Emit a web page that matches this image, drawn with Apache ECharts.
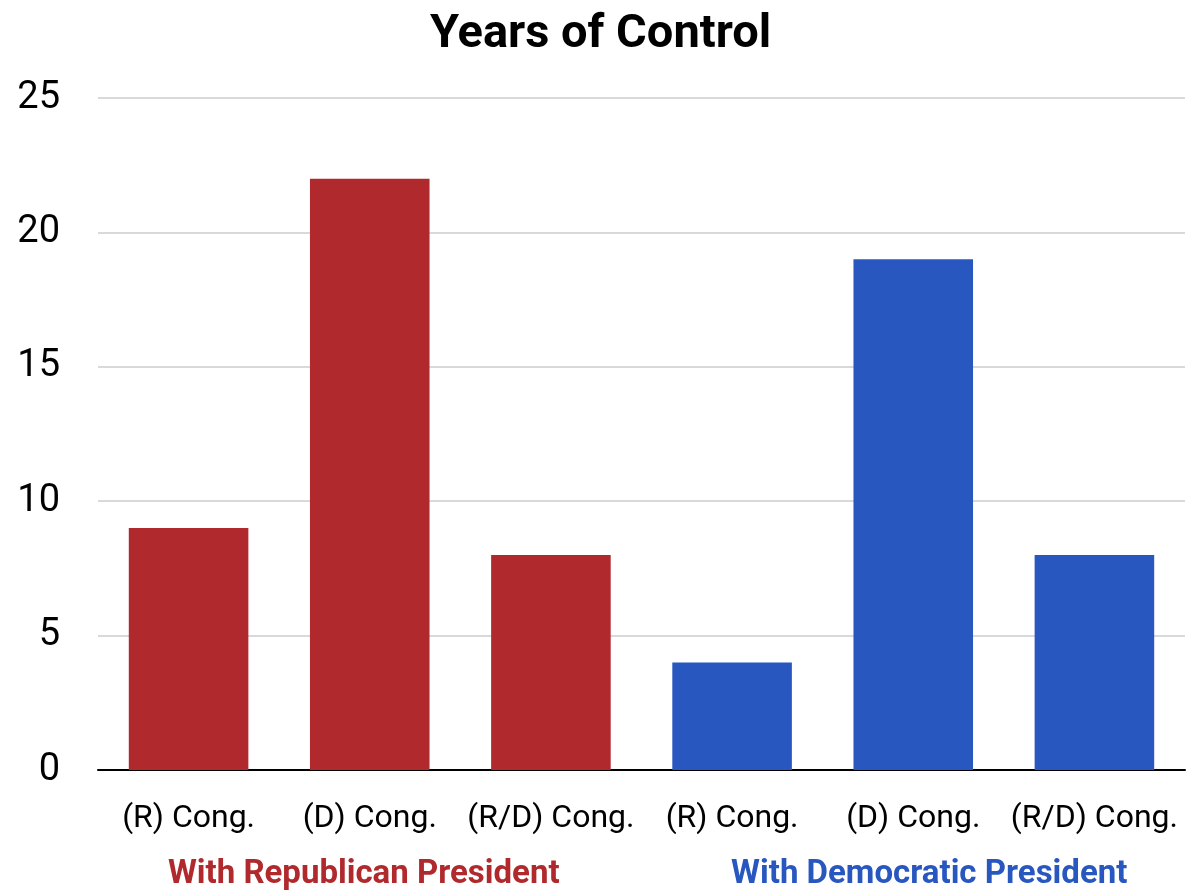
<!DOCTYPE html>
<html><head><meta charset="utf-8">
<script src="https://cdn.jsdelivr.net/npm/echarts@6/dist/echarts.min.js"></script>
<style>html,body{margin:0;padding:0;background:#fff}#c{width:1201px;height:892px}</style>
</head><body><div id="c"></div>
<script>
const titleText = "Years of Control";
const categories = ["(R) Cong.", "(D) Cong.", "(R/D) Cong.", "(R) Cong.", "(D) Cong.", "(R/D) Cong."];
const values = [9, 22, 8, 4, 19, 8];
const groups = ["With Republican President", "With Democratic President"];
const groupOfBar = [0, 0, 0, 1, 1, 1];
const groupColors = ["#B0292D", "#2857C0"];
const yTicks = { min: 0, max: 25, interval: 5 };

const FONT = 'Roboto,"DejaVu Sans Condensed",sans-serif';
const chart = echarts.init(document.getElementById('c'), null, {renderer: 'canvas'});
chart.setOption({
  animation: false,
  backgroundColor: '#fff',
  title: {
    text: titleText, left: 'center', top: 7,
    textStyle: {fontFamily: FONT, fontWeight: 'bold', fontSize: 47, color: '#000'}
  },
  grid: {left: 98, right: 16, top: 98, bottom: 122, containLabel: false},
  xAxis: [{
    type: 'category', data: categories, position: 'bottom',
    axisLine: {lineStyle: {color: '#000', width: 2}},
    axisTick: {show: false},
    axisLabel: {fontFamily: FONT, fontSize: 32, color: '#000', margin: 33, interval: 0}
  }, {
    type: 'category', data: groups, position: 'bottom', offset: 88,
    axisLine: {show: false}, axisTick: {show: false},
    axisLabel: {
      interval: 0, margin: 0,
      formatter: (v, i) => '{g' + i + '|' + v + '}',
      rich: {
        g0: {fontFamily: FONT, fontWeight: 'bold', fontSize: 33, color: groupColors[0], padding: [0, 12, 0, 0]},
        g1: {fontFamily: FONT, fontWeight: 'bold', fontSize: 33, color: groupColors[1], padding: [0, 0, 0, 32]}
      }
    }
  }],
  yAxis: {
    type: 'value', min: yTicks.min, max: yTicks.max, interval: yTicks.interval,
    axisLine: {show: false}, axisTick: {show: false},
    splitLine: {lineStyle: {color: '#d9d9d9', width: 2}},
    axisLabel: {fontFamily: FONT, fontSize: 38, color: '#000', margin: 38}
  },
  series: [{
    type: 'bar', xAxisIndex: 0,
    barCategoryGap: '34%',
    data: values.map((v, i) => ({value: v, itemStyle: {color: groupColors[groupOfBar[i]]}}))
  }]
});
</script></body></html>
